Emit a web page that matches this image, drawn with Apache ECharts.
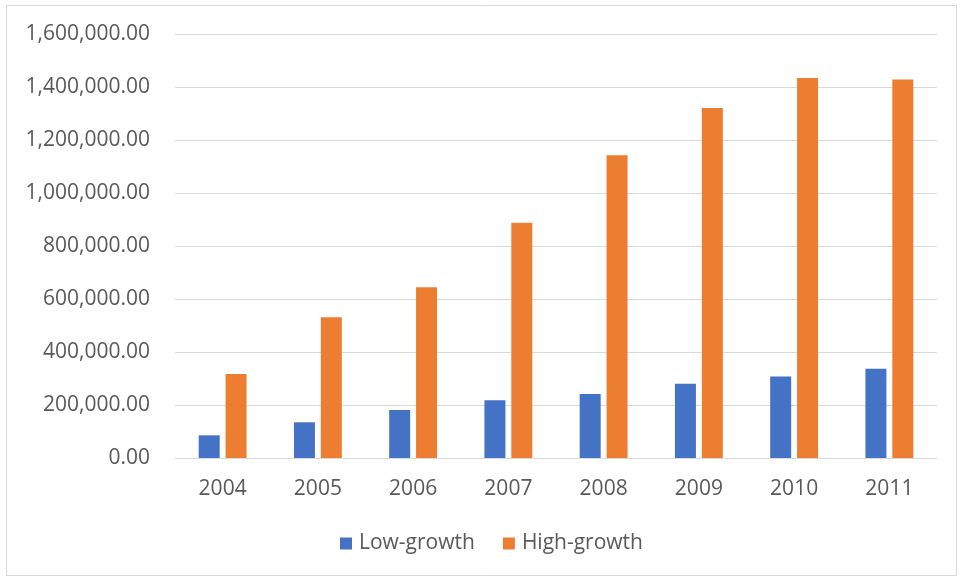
<!DOCTYPE html>
<html>
<head>
<meta charset="utf-8">
<script src="https://cdn.jsdelivr.net/npm/echarts@6/dist/echarts.min.js"></script>
<style>
    html, body { margin: 0; padding: 0; background: #fff; }
    #chart { width: 960px; height: 579px; }
</style>
</head>
<body>
<div id="chart"></div>
<script>
    var years = ['2004', '2005', '2006', '2007', '2008', '2009', '2010', '2011'];
    var lowGrowth = [85600, 134700, 181000, 218000, 241500, 280500, 308000, 337000];
    var highGrowth = [317000, 531000, 644000, 888000, 1142000, 1321000, 1434000, 1428000];

    var textColor = '#595959';
    var fontName = '"Open Sans", "Liberation Sans", sans-serif';

    function fmt(v) {
        return v.toLocaleString('en-US', { minimumFractionDigits: 2, maximumFractionDigits: 2 });
    }

    var chart = echarts.init(document.getElementById('chart'));
    chart.setOption({
        animation: false,
        backgroundColor: '#fff',
        graphic: [{
            type: 'rect',
            shape: { x: 6.5, y: 5.5, width: 950, height: 570 },
            style: { fill: 'none', stroke: '#d9d9d9', lineWidth: 1 },
            silent: true
        }],
        grid: { left: 175, right: 23, top: 34, bottom: 121 },
        legend: {
            bottom: 20,
            left: 335,
            itemWidth: 12,
            itemHeight: 12,
            itemGap: 28,
            icon: 'rect',
            textStyle: { color: textColor, fontSize: 21, fontFamily: fontName, padding: [0, 0, 0, 2] },
            data: ['Low-growth', 'High-growth']
        },
        xAxis: {
            type: 'category',
            data: years,
            axisLine: { lineStyle: { color: '#d9d9d9', width: 1 } },
            axisTick: { show: false },
            axisLabel: { color: textColor, fontSize: 21, fontFamily: fontName, margin: 21 }
        },
        yAxis: {
            type: 'value',
            min: 0,
            max: 1600000,
            interval: 200000,
            axisLine: { show: false },
            axisTick: { show: false },
            splitLine: { lineStyle: { color: '#d9d9d9', width: 1 } },
            axisLabel: {
                color: textColor, fontSize: 21, fontFamily: fontName, margin: 25,
                formatter: fmt
            }
        },
        series: [{
            name: 'Low-growth',
            type: 'bar',
            data: lowGrowth,
            barWidth: 21,
            barGap: '28%',
            itemStyle: { color: '#4472c4' }
        }, {
            name: 'High-growth',
            type: 'bar',
            data: highGrowth,
            barWidth: 21,
            barGap: '28%',
            itemStyle: { color: '#ed7d31' }
        }]
    });
</script>
</body>
</html>
